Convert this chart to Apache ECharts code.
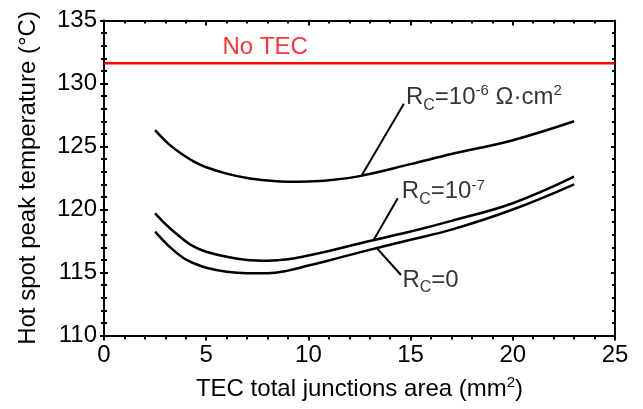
<!DOCTYPE html>
<html><head><meta charset="utf-8">
<script src="https://cdn.jsdelivr.net/npm/echarts@6/dist/echarts.min.js"></script>
<style>html,body{margin:0;padding:0;background:#fff}#c{width:643px;height:409px}</style>
</head><body><div id="c"></div>
<script>
// data
const xArea = [2.5, 3.2, 3.9, 4.4, 5, 6, 7, 8, 9, 10, 11, 12.5, 15, 17, 20, 23];
const rc1e6 = [126.3, 125.15, 124.3, 123.8, 123.35, 122.85, 122.5, 122.3, 122.2, 122.22, 122.32, 122.65, 123.6, 124.4, 125.5, 127.0];
const rc1e7 = [119.7, 118.55, 117.6, 117.05, 116.65, 116.25, 116.0, 115.94, 116.05, 116.35, 116.7, 117.3, 118.25, 119.1, 120.5, 122.6];
const rc0 = [118.24, 117.05, 116.13, 115.73, 115.38, 115.06, 114.95, 114.95, 115.15, 115.55, 115.95, 116.6, 117.6, 118.4, 120.0, 122.0];
const noTec = 131.6;
const xTicks = [0, 5, 10, 15, 20, 25];
const yTicks = [110, 115, 120, 125, 130, 135];

const FONT = 'Liberation Sans, Arial, sans-serif';
const FS = 24;
const pairs = ys => xArea.map((x, i) => [x, ys[i]]);
const curve = (name, ys) => ({
  name, type: 'line', data: pairs(ys), smooth: 0.4, symbol: 'none',
  lineStyle: { color: '#000', width: 2.5 }, silent: true, z: 3
});
const leader = (a, b) => ({
  type: 'line', data: [a, b], symbol: 'none', silent: true,
  lineStyle: { color: '#000', width: 2 }, z: 4
});
const rich = {
  n: { fontSize: FS, fontFamily: FONT, color: '#000', lineHeight: 28, verticalAlign: 'middle' },
  sub: { fontSize: 16, fontFamily: FONT, color: '#000', padding: [16, 0, 0, 0], verticalAlign: 'middle' },
  sup: { fontSize: 15, fontFamily: FONT, color: '#000', padding: [0, 0, 13, 0], verticalAlign: 'middle' }
};
const textPoint = (x, y, fmt, color, align) => ({
  type: 'scatter', symbolSize: 0, silent: true, data: [[x, y]], z: 5,
  label: { show: true, position: 'inside', formatter: fmt, align: align || 'left',
    color: color || '#000', fontSize: FS, fontFamily: FONT, rich }
});

const chart = echarts.init(document.getElementById('c'), null, { renderer: 'canvas' });
chart.setOption({
  animation: false,
  backgroundColor: '#fff',
  grid: { left: 104, right: 28, top: 20.5, bottom: 73.5, containLabel: false },
  xAxis: [
    { type: 'value', min: 0, max: 25, interval: 5, position: 'bottom',
      axisLine: { show: true, lineStyle: { color: '#000', width: 2 } },
      axisTick: { show: true, inside: false, length: 5, lineStyle: { color: '#000', width: 2 } },
      minorTick: { show: true, splitNumber: 5, length: 4, lineStyle: { color: '#000', width: 2 } },
      splitLine: { show: false },
      axisLabel: { color: '#000', fontSize: FS, fontFamily: FONT, margin: 8,
        formatter: v => xTicks.includes(v) ? String(v) : '' },
      name: 'TEC total junctions area (mm{sup|2})', nameLocation: 'middle', nameGap: 40,
      nameTextStyle: { color: '#000', fontSize: FS, fontFamily: FONT,
        rich: { sup: { fontSize: 15, fontFamily: FONT, color: '#000', padding: [0, 0, 13, 0] } } } },
    { type: 'value', min: 0, max: 25, interval: 5, position: 'top',
      axisLine: { show: true, lineStyle: { color: '#000', width: 2 } },
      axisTick: { show: true, inside: true, length: 5, lineStyle: { color: '#000', width: 2 } },
      minorTick: { show: true, splitNumber: 5, length: 3, lineStyle: { color: '#000', width: 2 } },
      splitLine: { show: false }, axisLabel: { show: false } }
  ],
  yAxis: [
    { type: 'value', min: 110, max: 135, interval: 5, position: 'left',
      axisLine: { show: true, lineStyle: { color: '#000', width: 2 } },
      axisTick: { show: true, inside: false, length: 4, lineStyle: { color: '#000', width: 2 } },
      minorTick: { show: true, splitNumber: 5, length: 3, lineStyle: { color: '#000', width: 2 } },
      splitLine: { show: false },
      axisLabel: { color: '#000', fontSize: FS, fontFamily: FONT, margin: 7,
        formatter: v => yTicks.includes(v) ? String(v) : '' },
      name: 'Hot spot peak temperature (°C)', nameLocation: 'middle', nameGap: 64,
      nameTextStyle: { color: '#000', fontSize: FS, fontFamily: FONT } },
    { type: 'value', min: 110, max: 135, interval: 5, position: 'left',
      axisLine: { show: false },
      axisTick: { show: true, inside: true, length: 4, lineStyle: { color: '#000', width: 2 } },
      minorTick: { show: true, splitNumber: 5, length: 3, lineStyle: { color: '#000', width: 2 } },
      splitLine: { show: false }, axisLabel: { show: false } },
    { type: 'value', min: 110, max: 135, interval: 5, position: 'right',
      axisLine: { show: true, lineStyle: { color: '#000', width: 2 } },
      axisTick: { show: true, inside: true, length: 4, lineStyle: { color: '#000', width: 2 } },
      minorTick: { show: true, splitNumber: 5, length: 3, lineStyle: { color: '#000', width: 2 } },
      splitLine: { show: false }, axisLabel: { show: false } }
  ],
  series: [
    { type: 'line', data: [[0, noTec], [25, noTec]], symbol: 'none', silent: true,
      lineStyle: { color: '#ff0000', width: 2.5 }, z: 2 },
    curve('Rc=1e-6', rc1e6),
    curve('Rc=1e-7', rc1e7),
    curve('Rc=0', rc0),
    leader([14.67, 128.4], [12.57, 122.6]),
    leader([14.37, 120.9], [13.2, 117.6]),
    leader([13.37, 116.9], [14.53, 114.8]),
    textPoint(7.88, 132.9, 'No TEC', '#ff0000', 'center'),
    textPoint(14.77, 128.9, '{n|R}{sub|C}{n|=10}{sup|-6}{n| Ω·cm}{sup|2}'),
    textPoint(14.57, 121.4, '{n|R}{sub|C}{n|=10}{sup|-7}'),
    textPoint(14.6, 114.4, '{n|R}{sub|C}{n|=0}')
  ]
});
</script></body></html>
